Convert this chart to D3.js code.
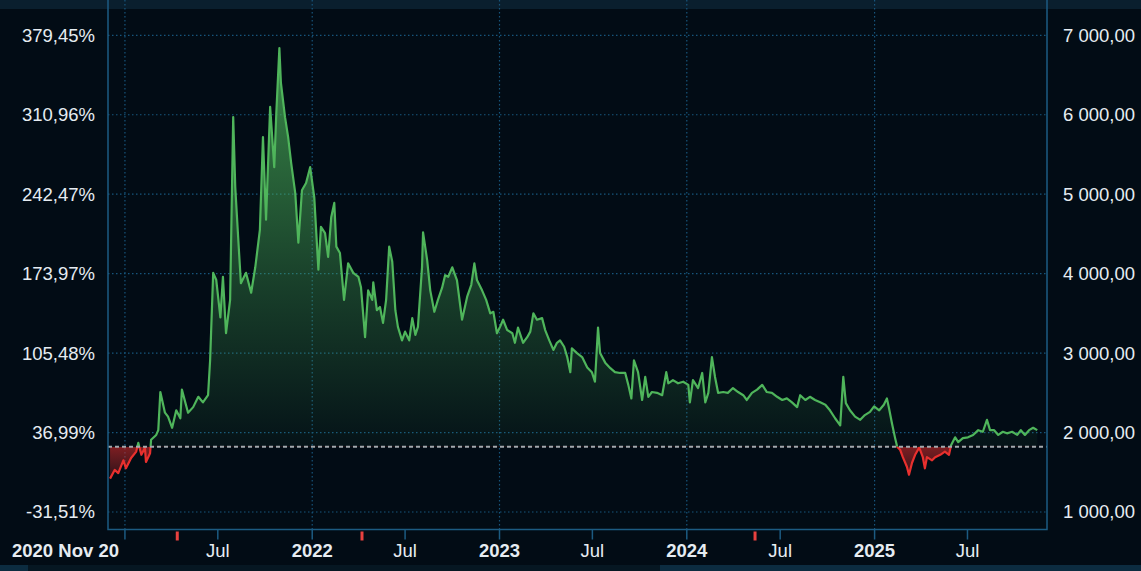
<!DOCTYPE html>
<meta charset="utf-8">
<style>
body { margin: 0; background: #020c15; }
svg { display: block; font-family: "Liberation Sans", Arial, sans-serif; }
</style>
<svg width="1141" height="571"></svg>
<script src="https://cdn.jsdelivr.net/npm/d3@7/dist/d3.min.js"></script>
<script>

// closing prices
var dates = [
  "2020-12-03","2020-12-12","2020-12-19","2020-12-29","2021-01-03","2021-01-13","2021-01-23","2021-01-27",
  "2021-02-02","2021-02-09","2021-02-11","2021-02-19","2021-02-21","2021-03-03","2021-03-07","2021-03-11",
  "2021-03-20","2021-03-26","2021-04-03","2021-04-11","2021-04-19","2021-04-22","2021-05-04","2021-05-14",
  "2021-05-24","2021-06-02","2021-06-12","2021-06-16","2021-06-22","2021-06-28","2021-07-06","2021-07-11",
  "2021-07-17","2021-07-25","2021-07-31","2021-08-04","2021-08-10","2021-08-15","2021-08-25","2021-09-04",
  "2021-09-12","2021-09-21","2021-09-27","2021-10-03","2021-10-11","2021-10-19","2021-10-23","2021-10-29",
  "2021-11-01","2021-11-09","2021-11-15","2021-11-21","2021-11-29","2021-12-05","2021-12-12","2021-12-20",
  "2021-12-28","2022-01-05","2022-01-13","2022-01-18","2022-01-26","2022-02-01","2022-02-07","2022-02-13",
  "2022-02-17","2022-02-24","2022-03-04","2022-03-12","2022-03-22","2022-04-01","2022-04-06","2022-04-14",
  "2022-04-20","2022-04-28","2022-04-30","2022-05-07","2022-05-13","2022-05-19","2022-05-25","2022-05-31",
  "2022-06-06","2022-06-12","2022-06-17","2022-06-25","2022-07-01","2022-07-09","2022-07-15","2022-07-21",
  "2022-07-26","2022-08-03","2022-08-05","2022-08-13","2022-08-19","2022-08-27","2022-09-03","2022-09-11",
  "2022-09-17","2022-09-23","2022-10-01","2022-10-10","2022-10-20","2022-10-30","2022-11-07","2022-11-13",
  "2022-11-18","2022-11-28","2022-12-06","2022-12-14","2022-12-20","2022-12-27","2023-01-02","2023-01-08",
  "2023-01-16","2023-01-26","2023-01-31","2023-02-06","2023-02-16","2023-02-24","2023-03-02","2023-03-08",
  "2023-03-15","2023-03-25","2023-03-31","2023-04-08","2023-04-16","2023-04-23","2023-04-29","2023-05-07",
  "2023-05-13","2023-05-19","2023-05-22","2023-06-01","2023-06-11","2023-06-21","2023-06-30","2023-07-06",
  "2023-07-12","2023-07-16","2023-07-26","2023-08-05","2023-08-14","2023-08-24","2023-09-03","2023-09-09",
  "2023-09-15","2023-09-20","2023-09-28","2023-10-06","2023-10-12","2023-10-18","2023-10-25","2023-11-04",
  "2023-11-14","2023-11-22","2023-11-26","2023-12-05","2023-12-15","2023-12-25","2024-01-04","2024-01-07",
  "2024-01-13","2024-01-23","2024-01-31","2024-02-06","2024-02-12","2024-02-19","2024-02-25","2024-03-02",
  "2024-03-12","2024-03-21","2024-03-31","2024-04-10","2024-04-20","2024-04-27","2024-05-07","2024-05-17",
  "2024-05-27","2024-06-05","2024-06-15","2024-06-25","2024-07-05","2024-07-14","2024-07-24","2024-08-03",
  "2024-08-09","2024-08-19","2024-08-28","2024-09-07","2024-09-17","2024-09-27","2024-10-06","2024-10-16",
  "2024-10-26","2024-11-01","2024-11-06","2024-11-14","2024-11-24","2024-12-04","2024-12-13","2024-12-23",
  "2024-12-31","2025-01-10","2025-01-19","2025-01-25","2025-01-29","2025-02-04","2025-02-10","2025-02-14",
  "2025-02-20","2025-02-25","2025-03-05","2025-03-09","2025-03-15","2025-03-21","2025-03-29","2025-04-05",
  "2025-04-09","2025-04-13","2025-04-23","2025-04-29","2025-05-09","2025-05-18","2025-05-26","2025-05-30",
  "2025-06-07","2025-06-13","2025-06-22","2025-07-02","2025-07-12","2025-07-22","2025-07-31","2025-08-08",
  "2025-08-14","2025-08-22","2025-08-30","2025-09-08","2025-09-16","2025-09-26","2025-10-06","2025-10-13",
  "2025-10-21","2025-10-29","2025-11-06","2025-11-14"
];

var closes = [
  1420,1530,1490,1650,1550,1680,1760,1870,
  1720,1810,1630,1740,1910,1970,2030,2510,
  2250,2200,2060,2280,2180,2540,2250,2320,
  2450,2380,2470,2910,4010,3920,3450,3960,
  3250,3670,5970,5090,4420,3880,4010,3760,
  4080,4550,5720,4680,6100,5340,6020,6840,
  6400,5970,5720,5390,5010,4390,5050,5140,
  5340,4960,4050,4590,4510,4210,4710,4890,
  4340,4260,3670,4130,4010,3960,3830,3200,
  3790,3670,3890,3540,3580,3380,3670,4340,
  4150,3540,3330,3160,3270,3160,3440,3230,
  3330,4080,4520,4170,3790,3520,3670,3820,
  3980,3960,4080,3920,3420,3710,3860,4130,
  3920,3790,3670,3500,3520,3250,3330,3420,
  3290,3250,3130,3320,3130,3200,3270,3500,
  3420,3440,3290,3160,3040,3130,3160,3080,
  2950,2760,3060,3000,2950,2820,2760,2640,
  3320,3000,2880,2810,2760,2750,2750,2600,
  2430,2910,2760,2410,2700,2450,2510,2500,
  2470,2760,2620,2660,2620,2640,2600,2380,
  2660,2560,2750,2380,2500,2950,2700,2500,
  2510,2500,2560,2510,2470,2410,2500,2540,
  2600,2510,2500,2450,2410,2430,2380,2320,
  2470,2410,2450,2410,2380,2350,2280,2180,
  2090,2700,2370,2280,2200,2160,2220,2260,
  2330,2280,2350,2430,2310,2110,1930,1820,
  1780,1690,1570,1470,1620,1720,1810,1690,
  1550,1690,1650,1690,1720,1760,1720,1840,
  1940,1880,1930,1940,1970,2030,2010,2160,
  2030,2030,1970,2010,1990,2010,1970,2030,
  1970,2030,2060,2030
];

var baseClose = 1460;   // 0 % on the left scale
var refLevel = 1820;    // dotted reference line
var priceTicks = [1000, 2000, 3000, 4000, 5000, 6000, 7000];
var yearTicks = ["2021-01-01", "2022-01-01", "2023-01-01", "2024-01-01", "2025-01-01"];
var midTicks = ["2021-07-01", "2022-07-01", "2023-07-01", "2024-07-01", "2025-07-01"];
var startLabel = "2020 Nov 20";
var eventDates = ["2021-04-13", "2022-04-08", "2024-05-13"];

var parse = d3.utcParse("%Y-%m-%d");
var data = dates.map(function(d, i) { return {date: parse(d), close: closes[i]}; });

var svg = d3.select("svg"),
    width = +svg.attr("width"),
    height = +svg.attr("height");

var plotLeft = 108, plotRight = 1047, plotTop = 9, plotBottom = 529.5;

var x = d3.scaleUtc()
    .domain([parse("2020-11-29"), parse("2025-12-03")])
    .range([plotLeft, plotRight]);

var y = d3.scaleLinear()
    .domain([1000, 7000])
    .range([512, 35.3]);

var loc = d3.formatLocale({decimal: ",", thousands: " ", grouping: [3], currency: ["", ""], minus: "-"});
var fmtPrice = loc.format(",.2f");
var fmtPct = function(v) { return loc.format(",.2f")((v / baseClose - 1) * 100) + "%"; };

var gridColor = "#17557c", axisColor = "#1c5b82", textColor = "#e6ecf2";
var yRef = y(refLevel);

svg.append("rect").attr("width", width).attr("height", height).attr("fill", "#020c15");
svg.append("rect").attr("width", width).attr("height", plotTop).attr("fill", "#0a1f2e");
svg.append("rect").attr("y", 565).attr("width", width).attr("height", 6).attr("fill", "#061722");
svg.append("rect").attr("x", 660).attr("y", 565).attr("width", width - 660).attr("height", 6).attr("fill", "#0c2c40");
svg.append("rect").attr("x", 0).attr("y", 565).attr("width", 28).attr("height", 6).attr("fill", "#0c2c40");

var defs = svg.append("defs");

defs.append("clipPath").attr("id", "clip-up")
  .append("rect")
    .attr("x", plotLeft).attr("y", plotTop)
    .attr("width", plotRight - plotLeft).attr("height", yRef - plotTop);

defs.append("clipPath").attr("id", "clip-down")
  .append("rect")
    .attr("x", plotLeft).attr("y", yRef)
    .attr("width", plotRight - plotLeft).attr("height", plotBottom - yRef);

var gUp = defs.append("linearGradient").attr("id", "grad-up")
    .attr("gradientUnits", "userSpaceOnUse")
    .attr("x1", 0).attr("x2", 0)
    .attr("y1", y(d3.max(closes))).attr("y2", yRef);
gUp.append("stop").attr("offset", 0).attr("stop-color", "#4cb45a").attr("stop-opacity", 0.75);
gUp.append("stop").attr("offset", 0.6).attr("stop-color", "#4cb45a").attr("stop-opacity", 0.3);
gUp.append("stop").attr("offset", 1).attr("stop-color", "#4cb45a").attr("stop-opacity", 0.04);

var gDown = defs.append("linearGradient").attr("id", "grad-down")
    .attr("gradientUnits", "userSpaceOnUse")
    .attr("x1", 0).attr("x2", 0)
    .attr("y1", yRef).attr("y2", y(d3.min(closes)));
gDown.append("stop").attr("offset", 0).attr("stop-color", "#d02a2a").attr("stop-opacity", 0.6);
gDown.append("stop").attr("offset", 1).attr("stop-color", "#d02a2a").attr("stop-opacity", 0.2);

// grid
svg.append("g")
  .selectAll("line")
  .data(priceTicks)
  .enter().append("line")
    .attr("x1", plotLeft).attr("x2", plotRight)
    .attr("y1", function(d) { return y(d); })
    .attr("y2", function(d) { return y(d); })
    .attr("stroke", gridColor)
    .attr("stroke-width", 1.2)
    .attr("stroke-dasharray", "1.5,2.5");

svg.append("g")
  .selectAll("line")
  .data(yearTicks)
  .enter().append("line")
    .attr("x1", function(d) { return x(parse(d)); })
    .attr("x2", function(d) { return x(parse(d)); })
    .attr("y1", 0).attr("y2", plotBottom)
    .attr("stroke", gridColor)
    .attr("stroke-width", 1.2)
    .attr("stroke-dasharray", "1.5,2.5");

// series
var area = d3.area()
    .x(function(d) { return x(d.date); })
    .y0(yRef)
    .y1(function(d) { return y(d.close); });

var line = d3.line()
    .x(function(d) { return x(d.date); })
    .y(function(d) { return y(d.close); });

var up = svg.append("g").attr("clip-path", "url(#clip-up)");
up.append("path").datum(data).attr("d", area).attr("fill", "url(#grad-up)");
up.append("path").datum(data).attr("d", line)
    .attr("fill", "none").attr("stroke", "#4fb55b").attr("stroke-width", 2.2).attr("stroke-linejoin", "round");

var down = svg.append("g").attr("clip-path", "url(#clip-down)");
down.append("path").datum(data).attr("d", area).attr("fill", "url(#grad-down)");
down.append("path").datum(data).attr("d", line)
    .attr("fill", "none").attr("stroke", "#e8302e").attr("stroke-width", 2.2).attr("stroke-linejoin", "round");

// reference line
svg.append("line")
    .attr("x1", plotLeft).attr("x2", plotRight)
    .attr("y1", yRef).attr("y2", yRef)
    .attr("stroke", "#a3a8ad")
    .attr("stroke-width", 2)
    .attr("stroke-dasharray", "4,3");

// frame
svg.append("path")
    .attr("d", "M" + plotLeft + ",0V" + plotBottom + "H" + plotRight + "V0")
    .attr("fill", "none")
    .attr("stroke", axisColor)
    .attr("stroke-width", 1.5);

// left / right labels
svg.append("g")
  .selectAll("text")
  .data(priceTicks)
  .enter().append("text")
    .attr("x", 95)
    .attr("y", function(d) { return y(d); })
    .attr("dy", "0.35em")
    .attr("text-anchor", "end")
    .attr("fill", textColor)
    .attr("font-size", 18.5)
    .text(fmtPct);

svg.append("g")
  .selectAll("text")
  .data(priceTicks)
  .enter().append("text")
    .attr("x", 1063)
    .attr("y", function(d) { return y(d); })
    .attr("dy", "0.35em")
    .attr("fill", textColor)
    .attr("font-size", 18.5)
    .text(fmtPrice);

// bottom axis
var xTicks = yearTicks.concat(midTicks);
svg.append("g")
  .selectAll("line")
  .data(xTicks)
  .enter().append("line")
    .attr("x1", function(d) { return x(parse(d)); })
    .attr("x2", function(d) { return x(parse(d)); })
    .attr("y1", plotBottom).attr("y2", plotBottom + 10)
    .attr("stroke", axisColor)
    .attr("stroke-width", 1.5);

svg.append("g")
  .selectAll("rect")
  .data(eventDates)
  .enter().append("rect")
    .attr("x", function(d) { return x(parse(d)) - 1.5; })
    .attr("y", plotBottom + 2)
    .attr("width", 3).attr("height", 9)
    .attr("fill", "#e8413f");

svg.append("g")
  .selectAll("text")
  .data(yearTicks.slice(1))
  .enter().append("text")
    .attr("x", function(d) { return x(parse(d)); })
    .attr("y", 557)
    .attr("text-anchor", "middle")
    .attr("font-weight", "bold")
    .attr("font-size", 18.5)
    .attr("fill", textColor)
    .text(function(d) { return d.slice(0, 4); });

svg.append("g")
  .selectAll("text")
  .data(midTicks)
  .enter().append("text")
    .attr("x", function(d) { return x(parse(d)); })
    .attr("y", 557)
    .attr("text-anchor", "middle")
    .attr("font-size", 18.5)
    .attr("fill", textColor)
    .text(function(d) { return d3.utcFormat("%b")(parse(d)); });

svg.append("text")
    .attr("x", 12)
    .attr("y", 557)
    .attr("font-weight", "bold")
    .attr("font-size", 18.5)
    .attr("fill", textColor)
    .text(startLabel);

</script>
